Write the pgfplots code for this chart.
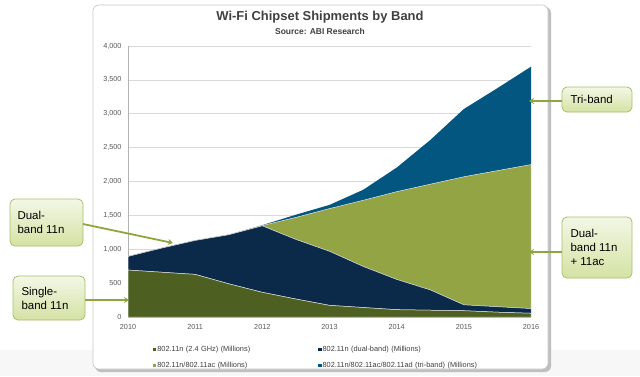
\documentclass[border=0pt]{standalone}
\usepackage{pgfplots}
\pgfplotsset{compat=1.18}
\usepackage{pgfplotstable}
\usetikzlibrary{arrows.meta}
\usepackage{fontspec}
\setmainfont{Liberation Sans}
\definecolor{cSingle}{HTML}{4E5F22}
\definecolor{cDual}{HTML}{0B2A4A}
\definecolor{cAC}{HTML}{93A445}
\definecolor{cTri}{HTML}{03567F}
\definecolor{cText}{HTML}{404040}
\definecolor{cArrow}{HTML}{8FA63F}
\definecolor{cBoxTop}{HTML}{F3F7E6}
\definecolor{cBoxBot}{HTML}{D4E2A3}
\definecolor{cBoxLine}{HTML}{A9BF6B}

\pgfplotstableread{
x       single dual ac   tri
2010    693    201  0    0
2010.5  661    356  0    0
2011    629    501  0    0
2011.5  490    724  0    0
2012    364    982  4    6
2012.5  265    880  325  40
2013    172    798  630  55
2013.5  140    607  975  155
2014    108    447  1295 355
2014.5  100    300  1560 652
2015    93     87   1890 1000
2015.5  71     81   2008 1218
2016    55     70   2125 1445
}\datatable

\begin{document}
\begin{tikzpicture}
\begin{scope}[x=1bp,y=-1bp]
  % page
  \fill[white] (0,0) rectangle (640,376);
  \fill[black!3] (0,350) rectangle (640,376);
  % chart box with shadow
  \fill[black!25, rounded corners=6bp] (95,7) rectangle (551,372);
  \fill[white, draw=black!22, line width=0.6bp, rounded corners=6bp] (93,5) rectangle (548,369);
  % titles
  \node[font=\bfseries\fontsize{13}{14}\selectfont, text=cText] at (320,17) {Wi-Fi Chipset Shipments by Band};
  \node[font=\bfseries\fontsize{8.5}{9}\selectfont, text=cText] at (320,31) {Source: ABI Research};
\end{scope}

\begin{axis}[
  at={(128bp,-317bp)}, anchor=south west,
  scale only axis, width=403bp, height=271bp,
  xmin=2010, xmax=2016, ymin=0, ymax=4000,
  stack plots=y,
  xtick={2010,2011,...,2016},
  ytick={0,500,...,4000},
  ymajorgrids,
  grid style={color=black!15, line width=0.6bp},
  axis x line*=bottom, axis y line*=left,
  axis line style={color=black!30, line width=0.6bp},
  major tick length=0pt,
  tick label style={font=\fontsize{7.3}{8}\selectfont, text=black!65},
  /pgf/number format/assume math mode=true,
  yticklabel style={/pgf/number format/1000 sep={,}, xshift=-3bp},
  xticklabel style={/pgf/number format/1000 sep={}, yshift=-4bp},
  legend columns=2,
  legend style={at={(22bp,-26bp)}, anchor=north west, draw=none, fill=none,
    font=\fontsize{7.4}{8}\selectfont, text=cText,
    nodes={text width=160bp, align=left, inner sep=1bp, text height=5.5bp, text depth=1.5bp},
    row sep=6.5bp},
  legend cell align=left,
  legend image code/.code={\fill[#1, draw=none] (0bp,-1.6bp) rectangle (3.2bp,1.6bp);},
]
\addplot[fill=cSingle, draw=white!85!black, line width=0.5bp] table[x=x,y=single]{\datatable} \closedcycle;
\addlegendentry{802.11n (2.4 GHz) (Millions)}
\addplot[fill=cDual, draw=white!85!black, line width=0.5bp] table[x=x,y=dual]{\datatable} \closedcycle;
\addlegendentry{802.11n (dual-band) (Millions)}
\addplot[fill=cAC, draw=white!85!black, line width=0.5bp] table[x=x,y=ac]{\datatable} \closedcycle;
\addlegendentry{802.11n/802.11ac (Millions)}
\addplot[fill=cTri, draw=none] table[x=x,y=tri]{\datatable} \closedcycle;
\addlegendentry{802.11n/802.11ac/802.11ad (tri-band) (Millions)}
\end{axis}

\begin{scope}[x=1bp,y=-1bp]
  \tikzset{callout/.style={rounded corners=5bp, draw=cBoxLine, line width=0.8bp,
      top color=cBoxTop, bottom color=cBoxBot},
    ctext/.style={font=\fontsize{11.5}{14}\selectfont, align=left, anchor=west, text=black},
    arr/.style={cArrow, line width=1.8bp, -{Stealth[length=5bp,width=6bp]}}}
  % Dual-band 11n
  \draw[callout] (10,199) rectangle (83,246);
  \node[ctext] at (14,222) {Dual-\\band 11n};
  \draw[arr] (83,224) -- (173,243);
  % Single-band 11n
  \draw[callout] (13,276) rectangle (85,320);
  \node[ctext] at (18,298) {Single-\\band 11n};
  \draw[arr] (85,300) -- (129,300);
  % Tri-band
  \draw[callout] (562,87) rectangle (632,112);
  \node[ctext] at (567,99.5) {Tri-band};
  \draw[arr] (562,101) -- (529,101);
  % Dual-band 11n + 11ac
  \draw[callout] (562,217) rectangle (632,278);
  \node[ctext] at (567,247.5) {Dual-\\band 11n\\+ 11ac};
  \draw[arr] (562,252) -- (529,252);
\end{scope}
\end{tikzpicture}
\end{document}
